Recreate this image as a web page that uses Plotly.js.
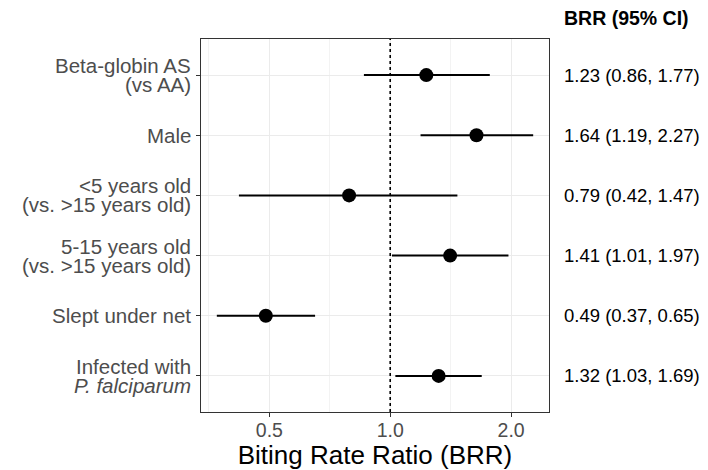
<!DOCTYPE html>
<html>
<head>
<meta charset="utf-8">
<script src="https://cdn.plot.ly/plotly-3.0.1.min.js"></script>
<style>html,body{margin:0;padding:0;background:#fff;}#chart{width:708px;height:470px;}</style>
</head>
<body>
<div id="chart"></div>
<script>
var categories = ['Beta-globin AS (vs AA)', 'Male', '<5 years old (vs. >15 years old)', '5-15 years old (vs. >15 years old)', 'Slept under net', 'Infected with P. falciparum'];
var tickLabels = ['Beta-globin AS<br>(vs AA)', 'Male', '&lt;5 years old<br>(vs. &gt;15 years old)', '5-15 years old<br>(vs. &gt;15 years old)', 'Slept under net', 'Infected with<br><i>P. falciparum</i>'];
var estimate = [1.23, 1.64, 0.79, 1.41, 0.49, 1.32];
var lower = [0.86, 1.19, 0.42, 1.01, 0.37, 1.03];
var upper = [1.77, 2.27, 1.47, 1.97, 0.65, 1.69];
var xTickVals = [0.5, 1, 2];
var xTickText = ['0.5', '1.0', '2.0'];
var xMinorVals = [0.3536, 0.7071, 1.4142, 2.8284];

var FONT = '"Liberation Sans", Arial, Helvetica, sans-serif';
var fmt = function (v) { return v.toFixed(2); };

var trace = {
  type: 'scatter', mode: 'markers',
  x: estimate, y: categories,
  marker: {color: '#000000', size: 14},
  error_x: {
    type: 'data', symmetric: false,
    array: estimate.map(function (v, i) { return upper[i] - v; }),
    arrayminus: estimate.map(function (v, i) { return v - lower[i]; }),
    color: '#000000', thickness: 2, width: 0
  },
  hoverinfo: 'x+y', showlegend: false
};

var lo = Math.min.apply(null, lower), hi = Math.max.apply(null, upper);
var l0 = Math.log10(lo), l1 = Math.log10(hi), pad = (l1 - l0) * 0.05;

var annotations = [];
// y-axis category labels (tight line spacing, right aligned)
categories.forEach(function (c, i) {
  var lines = tickLabels[i].split('<br>');
  var n = lines.length;
  lines.forEach(function (t, j) {
    annotations.push({
      xref: 'paper', yref: 'y', x: 0, y: c, xanchor: 'right', yanchor: 'middle',
      xshift: -8, yshift: (n - 1) * 9.5 - j * 19,
      text: t, showarrow: false, align: 'right',
      font: {family: FONT, size: 20.5, color: '#4D4D4D'}
    });
  });
});
// right-hand estimate column
categories.forEach(function (c, i) {
  annotations.push({
    xref: 'paper', yref: 'y', x: 1.038, y: c, xanchor: 'left', yanchor: 'middle',
    text: fmt(estimate[i]) + ' (' + fmt(lower[i]) + ', ' + fmt(upper[i]) + ')',
    showarrow: false, font: {family: FONT, size: 18.5, color: '#000000'}
  });
});
annotations.push({
  xref: 'paper', yref: 'paper', x: 1.038, y: 1.057, xanchor: 'left', yanchor: 'middle',
  text: '<b>BRR (95% CI)</b>', showarrow: false,
  font: {family: FONT, size: 19.5, color: '#000000'}
});

var layout = {
  width: 708, height: 470,
  margin: {l: 201, r: 159, t: 39, b: 58, pad: 0},
  paper_bgcolor: '#ffffff', plot_bgcolor: '#ffffff',
  font: {family: FONT},
  xaxis: {
    type: 'log', range: [l0 - pad, l1 + pad],
    tickmode: 'array', tickvals: xTickVals, ticktext: xTickText,
    ticks: 'outside', ticklen: 4, tickwidth: 1.1, tickcolor: '#333333',
    ticklabelstandoff: -4,
    tickfont: {family: FONT, size: 19.5, color: '#4D4D4D'},
    showgrid: true, gridcolor: '#EBEBEB', gridwidth: 1.1,
    minor: {tickmode: 'array', tickvals: xMinorVals, showgrid: true, gridcolor: '#EBEBEB', gridwidth: 0.6, ticks: ''},
    showline: true, mirror: true, linecolor: '#333333', linewidth: 1.3,
    zeroline: false,
    title: {text: 'Biting Rate Ratio (BRR)', font: {family: FONT, size: 26, color: '#000000'}, standoff: 2}
  },
  yaxis: {
    type: 'category', categoryorder: 'array', categoryarray: categories,
    range: [categories.length - 0.4, -0.6],
    tickmode: 'array', tickvals: categories, showticklabels: false,
    ticks: 'outside', ticklen: 4, tickwidth: 1.1, tickcolor: '#333333',
    showgrid: true, gridcolor: '#EBEBEB', gridwidth: 1.1,
    showline: true, mirror: true, linecolor: '#333333', linewidth: 1.3,
    zeroline: false
  },
  shapes: [{
    type: 'line', xref: 'x', yref: 'paper', x0: 1, x1: 1, y0: 0, y1: 1,
    line: {color: '#000000', width: 1.6, dash: 'dot'}, layer: 'above'
  }],
  annotations: annotations
};

Plotly.newPlot('chart', [trace], layout, {displayModeBar: false, staticPlot: true});
</script>
</body>
</html>
